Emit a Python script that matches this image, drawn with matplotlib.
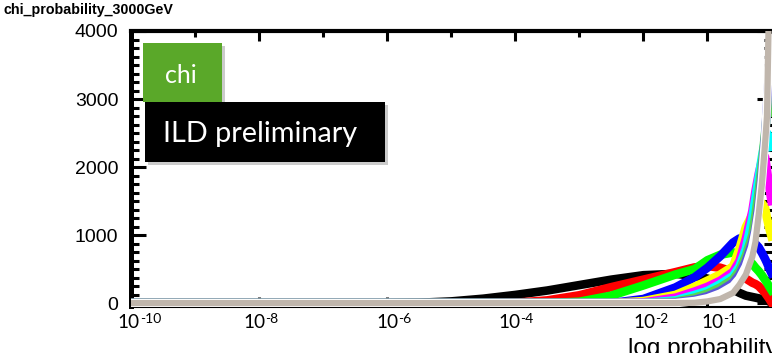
import numpy as np
import matplotlib
matplotlib.use("Agg")
import matplotlib.pyplot as plt
from matplotlib.patches import Rectangle
from matplotlib.ticker import FixedLocator, MultipleLocator, NullFormatter
import matplotlib.transforms as mtrans

# ---------------- data ----------------
log_p = [-10, -6, -5.5, -5, -4.5, -4, -3.5, -3, -2.5, -2, -1.5, -1.2, -1, -0.8,
         -0.6, -0.5, -0.4, -0.3, -0.25, -0.2, -0.15, -0.1, -0.07, -0.04, -0.02, 0]

h_black   = [0, 0, 5, 25, 65, 120, 185, 265, 345, 410, 430, 400, 360, 300,
             200, 150, 110, 90, 80, 70, 60, 50, 40, 25, 15, 0]
h_red     = [0, 0, 0, 0, 0, 5, 40, 115, 235, 345, 455, 525, 545, 520,
             460, 410, 360, 300, 280, 250, 200, 150, 110, 70, 40, 10]
h_green   = [0, 0, 0, 0, 0, 0, 0, 20, 110, 260, 420, 500, 630, 710,
             745, 720, 660, 580, 520, 470, 410, 340, 300, 250, 220, 190]
h_blue    = [0, 0, 0, 0, 0, 0, 0, 0, 0, 60, 230, 380, 520, 690,
             890, 950, 960, 910, 870, 820, 740, 650, 590, 520, 480, 440]
h_yellow  = [0, 0, 0, 0, 0, 0, 0, 0, 0, 30, 120, 240, 330, 420,
             540, 800, 1120, 1300, 1370, 1430, 1470, 1400, 1250, 1120, 1050, 980]
h_magenta = [0, 0, 0, 0, 0, 0, 0, 0, 0, 10, 80, 170, 240, 330,
             460, 620, 950, 1350, 1650, 1900, 2100, 2150, 1950, 1750, 1620, 1500]
h_cyan    = [0, 0, 0, 0, 0, 0, 0, 0, 0, 0, 40, 120, 180, 280,
             400, 540, 800, 1250, 1550, 1850, 2150, 2400, 2500, 2450, 2380, 2300]
h_green8  = [0, 0, 0, 0, 0, 0, 0, 0, 0, 0, 20, 80, 140, 230,
             350, 480, 700, 1000, 1300, 1650, 2050, 2500, 2800, 3000, 2950, 2800]
h_purple  = [0, 0, 0, 0, 0, 0, 0, 0, 0, 0, 10, 50, 100, 180,
             300, 420, 620, 900, 1100, 1450, 1900, 2450, 2900, 3400, 3500, 3400]
h_white   = [0, 0, 0, 0, 0, 0, 0, 0, 0, 0, 0, 30, 70, 140,
             250, 360, 540, 820, 1050, 1350, 1800, 2400, 2950, 3700, 3900, 3800]
h_gray    = [0, 0, 0, 0, 0, 0, 0, 0, 0, 0, 0, 5, 25, 60,
             150, 270, 420, 680, 900, 1300, 1750, 2350, 2750, 4400, 5000, 5500]

series_colors = ["#000000", "#ff0000", "#00ff00", "#0000ff", "#ffff00", "#ff00ff",
                 "#00ffff", "#59d454", "#5954d9", "#fefefe", "#c0b6ac"]
series = [h_black, h_red, h_green, h_blue, h_yellow, h_magenta,
          h_cyan, h_green8, h_purple, h_white, h_gray]

x_tick_pos = [1e-10, 1e-8, 1e-6, 1e-4, 1e-2, 1e-1]
x_tick_exp = ["-10", "-8", "-6", "-4", "-2", "-1"]
y_ticks = [0, 1000, 2000, 3000, 4000]

# ---------------- figure ----------------
W, H = 772, 353
fig = plt.figure(figsize=(W / 100, H / 100), dpi=100)
fig.patch.set_facecolor("white")

def fx(px):
    return px / W

def fy(py):
    return 1 - py / H

ax = fig.add_axes([fx(131), fy(306.5), fx(771.5) - fx(131), fy(31) - fy(306.5)])

x = 10.0 ** np.array(log_p, dtype=float)
for vals, col in zip(series, series_colors):
    lw = 4.5 if col == "#c0b6ac" else 6.2
    ax.plot(x, vals, color=col, lw=lw, zorder=3, solid_joinstyle="round")

ax.set_xscale("log")
ax.set_xlim(1e-10, 1)
ax.set_ylim(-50, 4000)

ax.spines["left"].set_linewidth(3.6)
ax.spines["top"].set_linewidth(3.0)
ax.spines["bottom"].set_linewidth(1.5)
ax.spines["right"].set_visible(False)

ax.yaxis.set_major_locator(FixedLocator(y_ticks))
ax.yaxis.set_minor_locator(MultipleLocator(125))
ax.set_yticklabels([str(v) for v in y_ticks], fontsize=14, family="Liberation Sans")
ax.tick_params(axis="y", which="major", direction="in", length=11, width=2.2,
               left=True, right=True, pad=9)
ax.tick_params(axis="y", which="minor", direction="in", length=5.5, width=2.2,
               left=True, right=True)

ax.xaxis.set_major_locator(FixedLocator(x_tick_pos))
ax.xaxis.set_minor_locator(FixedLocator([10.0 ** k for k in range(-10, 1)]))
ax.xaxis.set_minor_formatter(NullFormatter())
ax.set_xticklabels([])
ax.tick_params(axis="x", which="major", direction="in", length=7, width=2.2,
               top=True, bottom=True)
ax.tick_params(axis="x", which="minor", direction="in", length=4, width=2.2,
               top=True, bottom=True)

# x tick labels "10" + superscript (two texts anchored at the tick positions)
junction_px = [9, 6, 11, 5, 12, 16]
btrans = mtrans.blended_transform_factory(ax.transData, fig.transFigure)
for xt, ex, dx in zip(x_tick_pos, x_tick_exp, junction_px):
    off = mtrans.ScaledTranslation(dx / 100, 0, fig.dpi_scale_trans)
    ax.text(xt, fy(328), "10", transform=btrans + off, fontsize=13.7, family="Lato",
            ha="right", va="baseline", clip_on=False)
    ax.text(xt, fy(323), ex, transform=btrans + off, fontsize=10, family="Lato",
            ha="left", va="baseline", clip_on=False)

# title
fig.text(fx(3), fy(3), "chi_probability_3000GeV", fontsize=10.3, fontweight="bold",
         family="Liberation Sans", ha="left", va="top")

# x label (cut at the bottom edge as in the reference)
fig.text(fx(778), fy(355), "log probability", fontsize=17.5, family="Liberation Sans",
         ha="right", va="baseline")

# overlay boxes
def box(x0, y0, x1, y1, color):
    sh = Rectangle((fx(x0 + 3), fy(y1 + 3)), fx(x1) - fx(x0), fy(y0) - fy(y1),
                   transform=fig.transFigure, facecolor="#555555", alpha=0.3,
                   edgecolor="none", zorder=9)
    fig.add_artist(sh)
    r = Rectangle((fx(x0), fy(y1)), fx(x1) - fx(x0), fy(y0) - fy(y1),
                  transform=fig.transFigure, facecolor=color, edgecolor="none", zorder=10)
    fig.add_artist(r)

box(143, 43, 222, 102, "#5aa829")
box(145, 102, 385, 162, "#000000")
fig.text(fx(165), fy(83), "chi", fontsize=18, family="Lato", color="white",
         ha="left", va="baseline", zorder=11)
fig.text(fx(163), fy(142), "ILD preliminary", fontsize=20.8, family="Lato", color="white",
         ha="left", va="baseline", zorder=11)

fig.savefig("out.png", dpi=100)
